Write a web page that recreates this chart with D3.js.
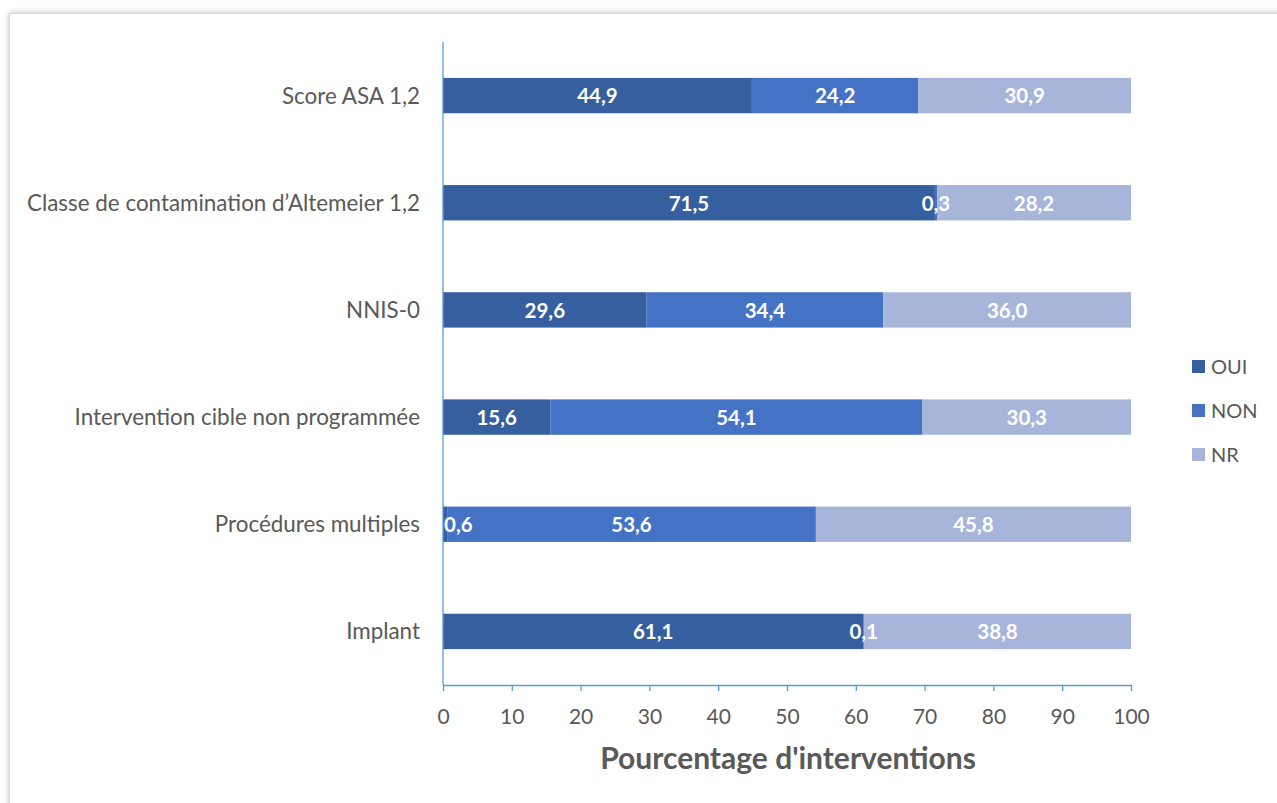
<!DOCTYPE html>
<html>
<head>
<meta charset="utf-8">
<script src="https://cdn.jsdelivr.net/npm/d3@7"></script>
<style>
  body { margin: 0; background: #fff; }
  text { font-family: Lato, "Open Sans", sans-serif; }
</style>
</head>
<body>
<div id="chart"></div>
<script>
const categories = ["Score ASA 1,2", "Classe de contamination d\u2019Altemeier 1,2", "NNIS-0",
  "Intervention cible non programmée", "Procédures multiples", "Implant"];
const seriesNames = ["OUI", "NON", "NR"];
const oui = [44.9, 71.5, 29.6, 15.6, 0.6, 61.1];
const non = [24.2, 0.3, 34.4, 54.1, 53.6, 0.1];
const nr = [30.9, 28.2, 36.0, 30.3, 45.8, 38.8];
const ticks = [0, 10, 20, 30, 40, 50, 60, 70, 80, 90, 100];
const colors = ["#355F9F", "#4472C4", "#A7B5DA"];

const W = 1277, H = 803;
const svg = d3.select("#chart").append("svg")
  .attr("width", W).attr("height", H);

// frame with a soft shadow
const defs = svg.append("defs");
const f = defs.append("filter").attr("id", "sh").attr("x", "-5%").attr("y", "-5%").attr("width", "110%").attr("height", "110%");
f.append("feDropShadow").attr("dx", 0).attr("dy", 0).attr("stdDeviation", 3).attr("flood-color", "#000").attr("flood-opacity", 0.25);
svg.append("rect").attr("x", 9.5).attr("y", 13.5).attr("width", 1300).attr("height", 850)
  .attr("fill", "#fff").attr("stroke", "#d9d9d9").attr("filter", "url(#sh)");

const mLeft = 443, mRight = 1131, mTop = 42, mBottom = 685;
const x = d3.scaleLinear().domain([0, 100]).range([mLeft, mRight]);
const y = d3.scaleBand().domain(categories).range([mTop, mBottom]).paddingInner(0.67).paddingOuter(0.335);

const rows = categories.map((c, i) => ({ cat: c, vals: [oui[i], non[i], nr[i]] }));
const segs = [];
rows.forEach(r => {
  let acc = 0;
  r.vals.forEach((v, k) => { segs.push({ cat: r.cat, k, v, x0: acc, x1: acc + v }); acc += v; });
});

svg.append("g").selectAll("rect").data(segs).enter().append("rect")
  .attr("x", d => x(d.x0)).attr("y", d => y(d.cat))
  .attr("width", d => x(d.x1) - x(d.x0)).attr("height", y.bandwidth())
  .attr("fill", d => colors[d.k]);

// data labels
const lab = svg.append("g").selectAll("text").data(segs).enter().append("text")
  .attr("y", d => y(d.cat) + y.bandwidth() / 2)
  .attr("dy", "0.38em")
  .attr("text-anchor", "middle")
  .attr("fill", "#fff").attr("font-weight", "bold").attr("font-size", 20.5)
  .text(d => d.v.toFixed(1).replace(".", ","));
lab.attr("x", function (d) {
  const w = this.getComputedTextLength();
  return Math.max((x(d.x0) + x(d.x1)) / 2, mLeft + w / 2 + 1);
});

// axes
const axColor = "#5B9BD5";
svg.append("line").attr("x1", mLeft).attr("x2", mLeft).attr("y1", mTop).attr("y2", mBottom)
  .attr("stroke", axColor).attr("stroke-width", 1.3);
const xa = svg.append("g").attr("transform", `translate(0,${mBottom})`)
  .call(d3.axisBottom(x).tickValues(ticks).tickSize(6).tickSizeOuter(0).tickPadding(18));
xa.select(".domain").attr("stroke", axColor).attr("stroke-width", 1.3);
xa.selectAll(".tick line").attr("stroke", axColor).attr("stroke-width", 1.3);
xa.selectAll(".tick text").attr("fill", "#595959").attr("font-size", 21).attr("font-family", "Lato, sans-serif");

// category labels
svg.append("g").selectAll("text").data(categories).enter().append("text")
  .attr("x", mLeft - 23).attr("y", d => y(d) + y.bandwidth() / 2).attr("dy", "0.36em")
  .attr("text-anchor", "end").attr("fill", "#595959").attr("font-size", 22.4)
  .text(d => d);

// axis title
svg.append("text").attr("x", (mLeft + mRight) / 2 + 1).attr("y", 769)
  .attr("text-anchor", "middle").attr("fill", "#595959").attr("font-weight", "bold").attr("font-size", 30)
  .text("Pourcentage d'interventions");

// legend
const lg = svg.append("g").selectAll("g").data(seriesNames).enter().append("g")
  .attr("transform", (d, i) => `translate(1192,${367 + i * 44})`);
lg.append("rect").attr("x", 0).attr("y", -7).attr("width", 13).attr("height", 13)
  .attr("fill", (d, i) => colors[i]);
lg.append("text").attr("x", 19).attr("y", 0).attr("dy", "0.36em")
  .attr("fill", "#595959").attr("font-size", 20).text(d => d);
</script>
</body>
</html>
